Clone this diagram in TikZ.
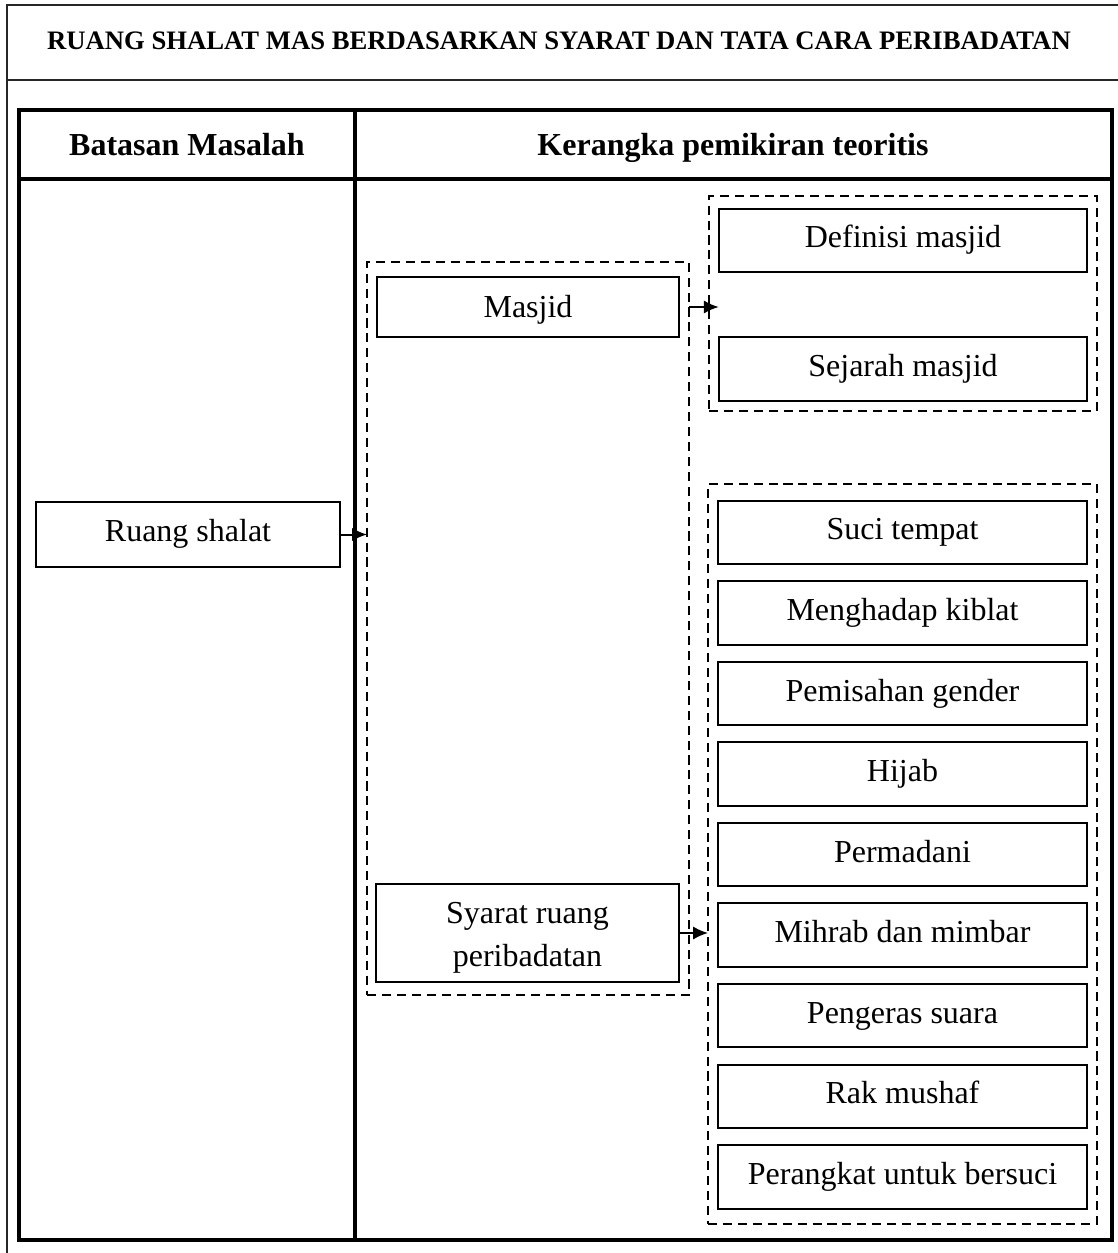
\documentclass[tikz,border=0pt]{standalone}
\usepackage{fontspec}
\setmainfont{Liberation Serif}
\usetikzlibrary{positioning,arrows.meta}

\begin{document}
\begin{tikzpicture}[
    x=0.375pt, y=-0.375pt,
    node distance=6.4pt,
    box/.style={rectangle, draw, line width=0.75pt, outer sep=0pt, minimum height=23.8pt, align=center, inner sep=2pt, text height=8.6pt, text depth=3pt, font=\fontsize{12}{16}\selectfont},
    item/.style={box, minimum width=138.2pt},
    grp/.style={rectangle, draw, dash pattern=on 3.4pt off 2.2pt, line width=0.7pt, outer sep=0pt},
    head/.style={text height=8.6pt, text depth=3pt, font=\bfseries\fontsize{12}{14}\selectfont},
    frame/.style={line width=1.5pt},
    arrow/.style={-{Latex[length=5.6pt,width=5pt]}, line width=0.75pt}
]
    \useasboundingbox (0,0) rectangle (1118,1253);

    % title frame
    \draw[line width=0.8pt, black!85] (1118,5) -- (7,5) -- (7,1253);
    \draw[line width=0.8pt, black!85] (7,80) -- (1118,80);
    \node[text height=7pt, text depth=2.5pt, font=\bfseries\fontsize{10}{12}\selectfont] (title) at (559,43) {RUANG SHALAT MAS BERDASARKAN SYARAT DAN TATA CARA PERIBADATAN};

    % table
    \draw[frame] (19,110) rectangle (1112,1240);
    \draw[frame] (19,179) -- (1112,179);
    \draw[frame] (355,110) -- (355,1240);
    \node[head] (batasan) at (187,148.5) {Batasan Masalah};
    \node[head] (kerangka) at (733,148.5) {Kerangka pemikiran teoritis};

    % dashed groups
    \node[grp, minimum width=120.75pt, minimum height=274.9pt] (grpmasjid) at (528,628.5) {};
    \node[grp, minimum width=145.5pt, minimum height=80.6pt] (grpdefinisi) at (903,303.5) {};
    \node[grp, minimum width=145.9pt, minimum height=277.5pt] (grpsyarat) at (902.5,854) {};

    \node[box, minimum width=114pt, minimum height=24.4pt] (ruang) at (188,534.5) {Ruang shalat};
    \node[box, minimum width=113.25pt, minimum height=22.5pt, text height=11.2pt] (masjid) at (528,307) {Masjid};
    \node[box, minimum width=113.6pt, minimum height=36.75pt, text height=27.8pt] (syarat) at (527.5,933) {Syarat ruang\\peribadatan};

    \node[item] (definisi) at (903,240.5) {Definisi masjid};
    \node[item, below=24.4pt of definisi] (sejarah) {Sejarah masjid};

    \node[item] (suci) at (902.5,532.5) {Suci tempat};
    \node[item, below=of suci] (kiblat) {Menghadap kiblat};
    \node[item, below=of kiblat] (gender) {Pemisahan gender};
    \node[item, below=of gender] (hijab) {Hijab};
    \node[item, below=of hijab] (permadani) {Permadani};
    \node[item, below=of permadani] (mihrab) {Mihrab dan mimbar};
    \node[item, below=of mihrab] (pengeras) {Pengeras suara};
    \node[item, below=of pengeras] (rak) {Rak mushaf};
    \node[item, below=of rak] (bersuci) {Perangkat untuk bersuci};

    \draw[arrow] (ruang.east) -- (ruang.east -| grpmasjid.west);
    \draw[arrow] (masjid -| grpmasjid.east) -- (masjid -| definisi.west);
    \draw[arrow] (syarat.east) -- (syarat.east -| grpsyarat.west);
\end{tikzpicture}
\end{document}
